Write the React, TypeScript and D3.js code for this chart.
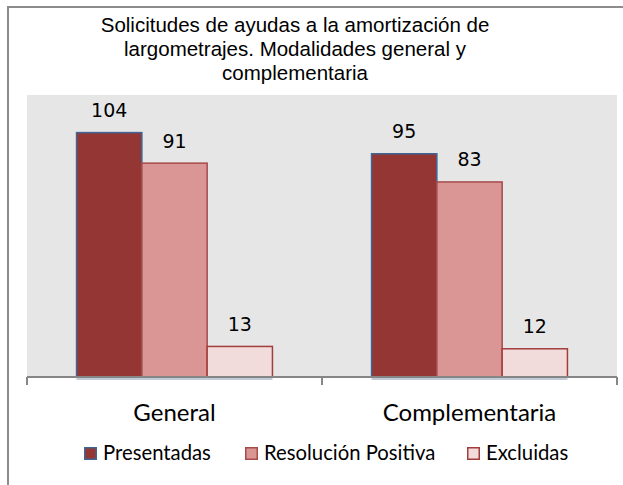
import React from "react";
import * as d3 from "d3";

const titleLines = [
  "Solicitudes de ayudas a la amortización de",
  "largometrajes. Modalidades general y",
  "complementaria",
];
const categories = ["General", "Complementaria"];
const seriesNames = ["Presentadas", "Resolución Positiva", "Excluidas"];
const presentadas = [104, 95];
const resolucionPositiva = [91, 83];
const excluidas = [13, 12];
const seriesValues = [presentadas, resolucionPositiva, excluidas];
const yMax = 120;

const fills = ["#943634", "#D99694", "#F2DCDB"];
const strokes = ["#3E6594", "#A8494A", "#A33D3B"];

export default function App() {
  const W = 623;
  const H = 485;
  const plot = { left: 27, right: 617, top: 95, bottom: 377 };

  const x0 = d3
    .scaleBand<string>()
    .domain(categories)
    .range([plot.left, plot.right])
    .paddingInner(0)
    .paddingOuter(0);
  const bw = x0.bandwidth();
  const x1 = d3
    .scaleBand<string>()
    .domain(seriesNames)
    .range([bw * 0.168, bw * 0.832])
    .padding(0);
  const y = d3.scaleLinear().domain([0, yMax]).range([plot.bottom, plot.top]);

  const ticks = [plot.left, ...categories.map((c) => (x0(c) as number) + bw)];

  const legendX = [84, 245, 467];

  return (
    <svg
      width={W}
      height={H}
      style={{ position: "absolute", left: 0, top: 0, background: "#fff" }}
    >
      {/* outer frame */}
      <line x1={8} y1={7} x2={W} y2={7} stroke="#8C8C8C" strokeWidth={2} />
      <line x1={8} y1={6} x2={8} y2={H} stroke="#8C8C8C" strokeWidth={2} />

      {/* title */}
      <text
        x={295}
        textAnchor="middle"
        fontFamily="'Liberation Sans', Arial, sans-serif"
        fontSize={20.5}
        fill="#000"
      >
        {titleLines.map((t, i) => (
          <tspan key={i} x={295} y={32 + i * 24}>
            {t}
          </tspan>
        ))}
      </text>

      {/* plot background */}
      <rect
        x={plot.left}
        y={plot.top}
        width={plot.right - plot.left}
        height={plot.bottom - plot.top}
        fill="#E6E6E6"
      />

      {/* bars */}
      {categories.map((c, ci) =>
        seriesNames.map((s, si) => {
          const v = seriesValues[si][ci];
          const bx = (x0(c) as number) + (x1(s) as number);
          const bwid = x1.bandwidth();
          const top = y(v);
          return (
            <g key={c + s}>
              <rect
                x={bx}
                y={plot.bottom}
                width={bwid}
                height={3}
                fill="#C3CAD8"
              />
              <rect
                x={bx}
                y={top}
                width={bwid}
                height={plot.bottom - top}
                fill={fills[si]}
                stroke={strokes[si]}
                strokeWidth={1.5}
              />
              <text
                x={bx + bwid / 2}
                y={top - 15.5}
                textAnchor="middle"
                fontFamily="'DejaVu Sans', Verdana, sans-serif"
                fontSize={19}
                fill="#000"
              >
                {v}
              </text>
            </g>
          );
        })
      )}

      {/* axis */}
      <line
        x1={plot.left}
        y1={plot.bottom}
        x2={plot.right}
        y2={plot.bottom}
        stroke="#868686"
        strokeWidth={2}
      />
      {ticks.map((t, i) => (
        <line
          key={i}
          x1={t}
          y1={plot.bottom}
          x2={t}
          y2={plot.bottom + 8}
          stroke="#868686"
          strokeWidth={2}
        />
      ))}

      {/* category labels */}
      {categories.map((c) => (
        <text
          key={c}
          x={(x0(c) as number) + bw / 2}
          y={421}
          textAnchor="middle"
          fontFamily="Lato, 'Open Sans', sans-serif"
          fontSize={24}
          fill="#000"
        >
          {c}
        </text>
      ))}

      {/* legend */}
      {seriesNames.map((s, i) => (
        <g key={s}>
          <rect
            x={legendX[i] + 0.75}
            y={447.75}
            width={11.5}
            height={11.5}
            fill={fills[i]}
            stroke={strokes[i]}
            strokeWidth={1.5}
          />
          <text
            x={legendX[i] + 19}
            y={460}
            fontFamily="Lato, 'Open Sans', sans-serif"
            fontSize={20.3}
            fill="#000"
          >
            {s}
          </text>
        </g>
      ))}
    </svg>
  );
}
